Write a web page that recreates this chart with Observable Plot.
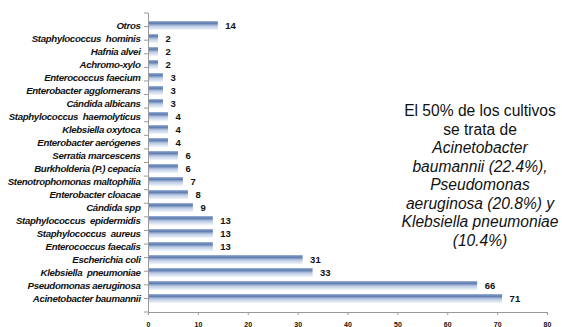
<!DOCTYPE html>
<html><head><meta charset="utf-8">
<script src="https://cdn.jsdelivr.net/npm/d3@7"></script>
<script src="https://cdn.jsdelivr.net/npm/@observablehq/plot@0.6"></script>
<style>
body{margin:0;background:#fff;font-family:Arial,"Liberation Sans",sans-serif;}
#wrap{position:relative;width:562px;height:327px;overflow:hidden;}
#note{position:absolute;left:380px;top:102px;width:200px;text-align:center;font-size:15.6px;line-height:18.5px;color:#111;}
#note i{font-style:italic;}
</style></head>
<body><div id="wrap"><div id="chart"></div>
<div id="note">El 50% de los cultivos<br>se trata de<br><i>Acinetobacter</i><br><i>baumannii (22.4%),</i><br><i>Pseudomonas</i><br><i>aeruginosa (20.8%) y</i><br><i>Klebsiella pneumoniae</i><br><i>(10.4%)</i></div>
</div>
<script>
const organisms = ["Otros","Staphylococcus  hominis","Hafnia alvei","Achromo-xylo","Enterococcus faecium","Enterobacter agglomerans","Cándida albicans","Staphylococcus  haemolyticus","Klebsiella oxytoca","Enterobacter aerógenes","Serratia marcescens","Burkholderia (P.) cepacia","Stenotrophomonas maltophilia","Enterobacter cloacae","Cándida spp","Staphylococcus  epidermidis","Staphylococcus  aureus","Enterococcus faecalis","Escherichia coli","Klebsiella  pneumoniae","Pseudomonas aeruginosa","Acinetobacter baumannii"];
const counts = [14,2,2,2,3,3,3,4,4,4,6,6,7,8,9,13,13,13,31,33,66,71];
const xTicks = [0,10,20,30,40,50,60,70,80];

const data = organisms.map((o,i)=>({o, v: counts[i]}));

const chart = Plot.plot({
  width: 562, height: 327,
  marginLeft: 148, marginRight: 15, marginTop: 13, marginBottom: 15,
  style: {fontFamily: "Arial, 'Liberation Sans', sans-serif", background: "#fff", overflow: "visible"},
  x: {domain: [0,80], ticks: xTicks, label: null, tickSize: 3},
  y: {domain: organisms, padding: 0.27, label: null, tickSize: 0},
  marks: [
    Plot.barX(data, {x: "v", y: "o", fill: "url(#bargrad)"}),
    Plot.text(data, {x: "v", y: "o", text: d => String(d.v), textAnchor: "start", dx: 7, fontSize: 9.5, fontWeight: "bold", fill: "#111"}),
    Plot.ruleX([0], {stroke: "#999"}),
    Plot.axisY({tickSize: 0, tickPadding: 8, fontSize: 9.7, fontWeight: "bold", fontStyle: "italic", fill: "#111", tickFormat: d => d}),
    Plot.axisX({ticks: xTicks, tickSize: 3, fontSize: 7, fontWeight: "bold", fill: "#111", stroke: "#999", tickPadding: 7})
  ]
});
const svg = d3.select(chart);
const defs = svg.insert("defs", ":first-child");
const g = defs.append("linearGradient").attr("id","bargrad").attr("x1",0).attr("x2",0).attr("y1",0).attr("y2",1);
g.append("stop").attr("offset","0%").attr("stop-color","#9fb4d8");
g.append("stop").attr("offset","25%").attr("stop-color","#5a79ad");
g.append("stop").attr("offset","55%").attr("stop-color","#b9c9e3");
g.append("stop").attr("offset","100%").attr("stop-color","#f2f5fb");
const xs = chart.scale("x");
svg.append("line").attr("x1", xs.apply(0)).attr("x2", xs.apply(80)).attr("y1", 327-15+0.5).attr("y2", 327-15+0.5).attr("stroke","#999");
const bw = (327-15-13)/organisms.length;
for (let i=0;i<=organisms.length;i++){
  const y = 13 + i*bw;
  svg.append("line").attr("x1", xs.apply(0)-4).attr("x2", xs.apply(0)).attr("y1", y).attr("y2", y).attr("stroke","#999");
}
svg.selectAll("[aria-label='y-axis tick label'] text").attr("letter-spacing","-0.35");
document.getElementById("chart").appendChild(chart);
</script>
</body></html>
